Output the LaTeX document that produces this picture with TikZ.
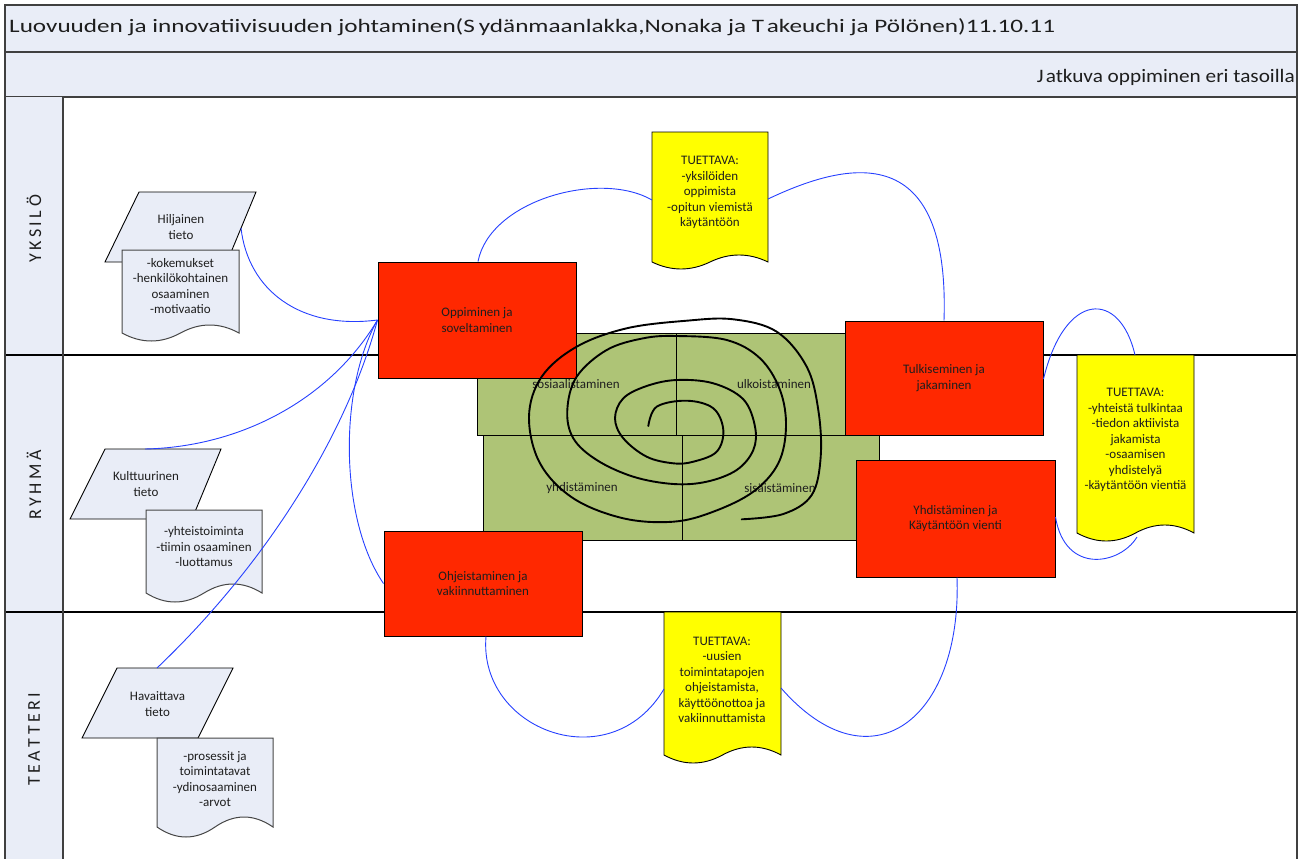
\documentclass[tikz,border=0pt]{standalone}
\usepackage{fontspec}
\setmainfont{Carlito}
\usepackage{graphicx}

\definecolor{bandblue}{RGB}{233,237,247}
\definecolor{framegray}{RGB}{64,64,64}
\definecolor{boxred}{RGB}{255,40,0}
\definecolor{docyellow}{RGB}{255,255,0}
\definecolor{cellgreen}{RGB}{174,196,118}
\definecolor{linkblue}{RGB}{38,64,255}
\definecolor{textdark}{RGB}{30,30,30}
\definecolor{docedge}{RGB}{70,70,70}

% document shape with a wavy lower edge: style, x0, top, x1, bottom, amplitude
\newcommand\docbox[6]{%
  \path[#1] (#2,#3) -- (#4,#3) -- (#4,#5)
    .. controls ({#4-(#4-#2)/6},{#5-4/3*#6}) and ({#4-(#4-#2)/3},{#5-4/3*#6}) .. ({(#2+#4)/2},#5)
    .. controls ({#2+(#4-#2)/3},{#5+4/3*#6}) and ({#2+(#4-#2)/6},{#5+4/3*#6}) .. (#2,#5) -- cycle;}
\newcommand\lsp{\kern3.5pt}

\tikzset{
  band/.style={fill=bandblue, draw=framegray, line width=1.2pt},
  frameline/.style={draw=framegray, line width=1.2pt},
  laneline/.style={draw=black, line width=1.1pt},
  redbox/.style={draw=black, fill=boxred, line width=1pt, minimum width=198pt,
    align=center, font=\fontsize{13}{15.5}\selectfont, text=textdark, inner sep=0pt},
  yellowdoc/.style={fill=docyellow, draw=black, line width=0.9pt},
  bluedoc/.style={fill=bandblue, draw=docedge, line width=1pt},
  para/.style={fill=bandblue, draw=black, line width=0.9pt},
  cell/.style={fill=cellgreen, draw=black, line width=0.9pt},
  link/.style={draw=linkblue, line width=0.9pt},
  txt/.style={align=center, font=\fontsize{13}{15.5}\selectfont, text=textdark, inner sep=0pt},
  lanetxt/.style={rotate=90, font=\fontsize{18}{20}\selectfont, text=textdark, inner sep=0pt},
  spiral/.style={draw=black, line width=1.9pt, line cap=round, line join=round},
}

\begin{document}
\begin{tikzpicture}[x=1pt,y=-1pt]
\useasboundingbox (0,0) rectangle (1304,859);

% header bands
\path[band] (5,5) rectangle (1297,52);
\path[band] (5,52) rectangle (1297,97);
\node[anchor=base west, inner sep=0pt, text=textdark] (title) at (9,33)
  {\resizebox{1046pt}{\height}{\fontsize{19}{23}\selectfont Luovuuden ja innovatiivisuuden johtaminen(S\kern3pt ydänmaanlakka,Nonaka ja T\kern2pt akeuchi ja Pölönen)11.10.11}};
\node[anchor=base east, inner sep=0pt, text=textdark] (subtitle) at (1295,83)
  {\resizebox{258pt}{\height}{\fontsize{19}{23}\selectfont J\kern2pt atkuva oppiminen eri tasoilla}};

% swimlane frame
\path[fill=bandblue] (5,97) rectangle (63,862);
\draw[laneline] (5,355) -- (1297,355);
\draw[laneline] (5,612) -- (1297,612);
\draw[frameline] (5,97) -- (5,862);
\draw[frameline] (63,97) -- (63,862);
\draw[frameline] (1297,97) -- (1297,862);
\node[lanetxt] (yksilo) at (34,229) {Y\lsp K\lsp S\lsp I\lsp L\lsp Ö};
\node[lanetxt] (ryhma) at (34,485) {R\lsp Y\lsp H\lsp M\lsp Ä};
\node[lanetxt] (teatteri) at (34,739) {T\lsp E\lsp A\lsp T\lsp T\lsp E\lsp R\lsp I};

% knowledge conversion quadrants
\path[cell] (477,333) rectangle (676,435);
\path[cell] (676,333) rectangle (870,435);
\path[cell] (483,435) rectangle (682,540);
\path[cell] (682,435) rectangle (879,540);
\node[txt] (sos) at (576,384) {sosiaalistaminen};
\node[txt] (ulk) at (774,384) {ulkoistaminen};
\node[txt] (yhd2) at (582,488) {yhdistäminen};
\node[txt] (sis) at (780,488) {sisäistäminen};

% knowledge types
\path[para] (139,192) -- (256,192) -- (227,262) -- (105,262) -- cycle;
\node[txt] (hil) at (181,227) {Hiljainen\\tieto};
\coordinate (hilR) at (241,228);
\docbox{bluedoc}{122}{250}{239}{333}{8}
\node[txt] (hild) at (180.5,286) {-kokemukset\\-henkilökohtainen\\osaaminen\\-motivaatio};

\path[para] (105,449) -- (221,449) -- (192,519) -- (70,519) -- cycle;
\node[txt] (kul) at (146,484) {Kulttuurinen\\tieto};
\coordinate (kulT) at (145,449);
\docbox{bluedoc}{146}{510}{262}{593}{9}
\node[txt] (kuld) at (204,547) {-yhteistoiminta\\-tiimin osaaminen\\-luottamus};

\path[para] (117,668) -- (233,668) -- (198,738) -- (82,738) -- cycle;
\node[txt] (hav) at (157.5,704) {Havaittava\\tieto};
\coordinate (havT) at (157,668);
\docbox{bluedoc}{157}{738}{273}{827}{10}
\node[txt] (havd) at (215,779) {-prosessit ja\\toimintatavat\\-ydinosaaminen\\-arvot};

% supporting notes
\docbox{yellowdoc}{652}{132}{768}{262}{7}
\node[txt] (tu1) at (710,192.5) {TUETTAVA:\\-yksilöiden\\oppimista\\-opitun viemistä\\käytäntöön};
\coordinate (tu1L) at (652,200);
\coordinate (tu1R) at (768,199);

\docbox{yellowdoc}{664}{612}{781}{755}{8}
\node[txt] (tu2) at (722,680) {TUETTAVA:\\-uusien\\toimintatapojen\\ohjeistamista,\\käyttöönottoa ja\\vakiinnuttamista};
\coordinate (tu2L) at (664,689);
\coordinate (tu2R) at (781,688);

\docbox{yellowdoc}{1077}{355}{1194}{533}{8}
\node[txt] (tu3) at (1135.5,440) {TUETTAVA:\\-yhteistä tulkintaa\\-tiedon aktiivista\\jakamista\\-osaamisen\\yhdistelyä\\-käytäntöön vientiä};
\coordinate (tu3T) at (1135,355);
\coordinate (tu3B) at (1137,537);

% process steps
\node[redbox, minimum height=116pt] (opp) at (477,320) {Oppiminen ja\\soveltaminen};
\node[redbox, minimum height=114pt] (tul) at (944,378) {Tulkiseminen ja\\jakaminen};
\node[redbox, minimum height=117pt, minimum width=199pt] (yhd) at (955.5,518.5) {Yhdistäminen ja\\Käytäntöön vienti};
\node[redbox, minimum height=105pt] (ohj) at (483,583.5) {Ohjeistaminen ja\\vakiinnuttaminen};

% connectors
\draw[link] (hilR) .. controls (248,290) and (300,330) .. (opp.west);
\draw[link] (kulT) .. controls (240,447) and (330,400) .. (opp.west);
\draw[link] (havT) .. controls (262,568) and (345,440) .. (opp.west);
\draw[link] (ohj.west) .. controls (340,520) and (338,390) .. (opp.west);
\draw[link] ([xshift=1pt]opp.north) .. controls (490,200) and (600,170) .. (tu1L);
\draw[link] (tu1R) .. controls (850,160) and (950,140) .. (tul.north);
\draw[link] ([yshift=-1pt]tul.east) .. controls (1065,290) and (1120,290) .. (tu3T);
\draw[link] ([yshift=1.5pt]yhd.east) .. controls (1065,575) and (1120,565) .. (tu3B);
\draw[link] ([xshift=1.5pt]yhd.south) .. controls (962,720) and (870,790) .. (tu2R);
\draw[link] (tu2L) .. controls (610,780) and (478,730) .. ([xshift=3pt]ohj.south);

% spiral of continuous learning
\draw[spiral] plot[smooth, tension=0.6] coordinates {
  (648.3,426) (656.7,406.7) (686.7,400.7) (713.3,408.3) (723.3,430) (716.7,451.7)
  (693.3,461.7) (673.3,463.3) (646.7,456.7) (623.3,438.3) (615,418.3) (623.3,398.3)
  (646.7,386) (676.7,380) (713.3,383.3) (743.3,399.3) (755,426.7) (753.3,450)
  (736.7,470) (706.7,481.7) (673.3,484) (633.3,476.7) (596.7,460) (573.3,438.3)
  (567.3,410) (576.7,376.7) (606.7,350) (643.3,338.3) (676.7,336) (726.7,340)
  (760,358.3) (780,390) (786,426.7) (778.3,463.3) (753.3,491.7) (713.3,511.7)
  (673.3,521.7) (623.3,518.3) (573.3,498.3) (540,463.3) (529,416.7) (541.7,376.7)
  (576.7,346.7) (626.7,328.3) (686.7,320.7) (733.3,319.3) (776.7,331.7) (806.7,366.7)
  (818.3,410) (820.7,456.7) (811.7,495) (783.3,514) (741.7,519.3)};
\end{tikzpicture}
\end{document}
